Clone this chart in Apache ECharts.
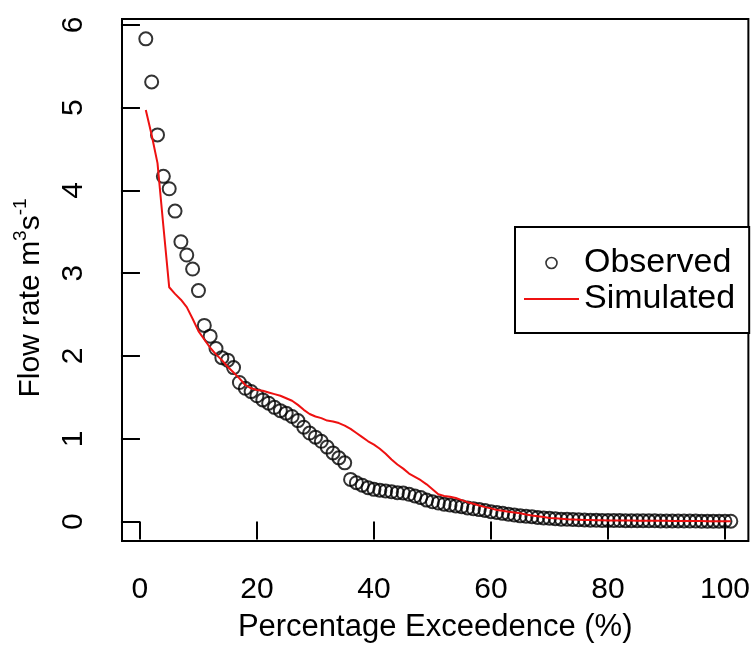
<!DOCTYPE html>
<html>
<head>
<meta charset="utf-8">
<script src="https://cdn.jsdelivr.net/npm/echarts@6/dist/echarts.min.js"></script>
<style>
html,body{margin:0;padding:0;background:#fff;}
#chart{width:753px;height:648px;}
</style>
</head>
<body>
<div id="chart"></div>
<script>
// Percentage exceedence (x)
var exceedence = [1,2,3,4,5,6,7,8,9,10,11,12,13,14,15,16,17,18,19,20,
  21,22,23,24,25,26,27,28,29,30,31,32,33,34,35,36,37,38,39,40,
  41,42,43,44,45,46,47,48,49,50,51,52,53,54,55,56,57,58,59,60,
  61,62,63,64,65,66,67,68,69,70,71,72,73,74,75,76,77,78,79,80,
  81,82,83,84,85,86,87,88,89,90,91,92,93,94,95,96,97,98,99,100,101];

// Observed flow rate (m3/s)
var observed = [5.83,5.31,4.67,4.17,4.02,3.75,3.38,3.22,3.05,2.79,
  2.37,2.24,2.09,1.98,1.95,1.86,1.68,1.61,1.57,1.52,
  1.47,1.43,1.38,1.34,1.31,1.27,1.22,1.14,1.07,1.02,
  0.97,0.90,0.83,0.77,0.71,0.51,0.47,0.44,0.41,0.39,
  0.38,0.37,0.36,0.35,0.345,0.33,0.31,0.29,0.26,0.24,
  0.225,0.21,0.20,0.19,0.18,0.165,0.155,0.145,0.135,0.12,
  0.11,0.10,0.09,0.08,0.07,0.065,0.06,0.05,0.045,0.04,
  0.035,0.03,0.028,0.025,0.022,0.02,0.018,0.016,0.015,0.014,
  0.013,0.013,0.012,0.012,0.011,0.011,0.01,0.01,0.009,0.009,
  0.008,0.008,0.008,0.007,0.007,0.006,0.006,0.006,0.005,0.005,0.005];

// Simulated flow rate (m3/s)
var simulated = [4.97,4.67,4.33,3.57,2.83,2.75,2.68,2.59,2.45,2.30,
  2.20,2.10,2.02,1.95,1.87,1.80,1.73,1.65,1.61,1.59,
  1.58,1.56,1.54,1.52,1.49,1.46,1.41,1.35,1.30,1.27,
  1.25,1.22,1.21,1.19,1.16,1.12,1.07,1.02,0.97,0.93,
  0.88,0.82,0.75,0.69,0.64,0.58,0.54,0.50,0.45,0.39,
  0.33,0.31,0.30,0.285,0.26,0.235,0.215,0.195,0.175,0.16,
  0.14,0.13,0.12,0.11,0.10,0.085,0.075,0.065,0.055,0.045,
  0.04,0.035,0.03,0.027,0.024,0.021,0.019,0.017,0.016,0.015,
  0.014,0.014,0.013,0.013,0.012,0.012,0.011,0.011,0.01,0.01,
  0.009,0.009,0.008,0.008,0.007,0.007,0.006,0.006,0.005,0.005,0.004];

var xTicks = [0,20,40,60,80,100];
var yTicks = [0,1,2,3,4,5,6];
var seriesNames = ['Observed','Simulated'];

var FONT = '"Liberation Sans", Arial, Helvetica, sans-serif';

var obsData = exceedence.map(function(x,i){return [x, observed[i]];});
var simData = exceedence.map(function(x,i){return [x, simulated[i]];});

var chart = echarts.init(document.getElementById('chart'), null, {renderer:'canvas'});
chart.setOption({
  animation:false,
  backgroundColor:'#fff',
  textStyle:{fontFamily:FONT},
  grid:{left:122, top:19, right:4, bottom:106, show:true, borderColor:'#000', borderWidth:2, backgroundColor:'#fff', containLabel:false},
  xAxis:{
    type:'value', min:-3.07, max:104,
    name:'Percentage Exceedence (%)', nameLocation:'middle', nameGap:71,
    nameTextStyle:{fontFamily:FONT, fontSize:31, color:'#000'},
    axisLine:{show:false},
    axisTick:{show:true, inside:false, length:18, lineStyle:{color:'#000', width:2}, customValues:xTicks},
    axisLabel:{show:true, margin:34, fontFamily:FONT, fontSize:30, color:'#000', customValues:xTicks},
    splitLine:{show:false}
  },
  yAxis:{
    type:'value', min:-0.234, max:6.07,
    name:'Flow rate m{sup|3}s{sup|-1}', nameLocation:'middle', nameRotate:90, nameGap:76,
    nameTextStyle:{fontFamily:FONT, fontSize:30, color:'#000', padding:[0,36,0,0],
      rich:{sup:{fontFamily:FONT, fontSize:19, color:'#000', verticalAlign:'bottom', lineHeight:19, padding:[0,0,16,0]}}},
    axisLine:{show:false},
    axisTick:{show:true, inside:false, length:19, lineStyle:{color:'#000', width:2}, customValues:yTicks},
    axisLabel:{show:true, rotate:90, margin:33, fontFamily:FONT, fontSize:30, color:'#000', customValues:yTicks},
    splitLine:{show:false}
  },
  legend:{
    show:true, orient:'vertical', left:515, top:227,
    backgroundColor:'#fff', borderColor:'#000', borderWidth:2,
    padding:[19,14,17,9], itemGap:2, itemWidth:55, itemHeight:11,
    textStyle:{fontFamily:FONT, fontSize:34, color:'#000', lineHeight:34},
    data:[
      {name:seriesNames[0], icon:'circle', itemStyle:{color:'rgba(0,0,0,0)', borderColor:'#000', borderWidth:1.6}},
      {name:seriesNames[1], icon:'path://M0,0L110,0L110,4L0,4Z', itemStyle:{color:'#ee1111', borderWidth:0}}
    ]
  },
  series:[
    {
      name:seriesNames[0], type:'scatter', data:obsData, symbol:'circle', symbolSize:13,
      itemStyle:{color:'rgba(0,0,0,0)', borderColor:'#000', borderWidth:2},
      emphasis:{disabled:true}, z:2
    },
    {
      name:seriesNames[1], type:'line', data:simData, symbol:'none', showSymbol:false,
      lineStyle:{color:'#ee1111', width:2}, itemStyle:{color:'#ee1111'},
      emphasis:{disabled:true}, z:3
    }
  ]
});
</script>
</body>
</html>
